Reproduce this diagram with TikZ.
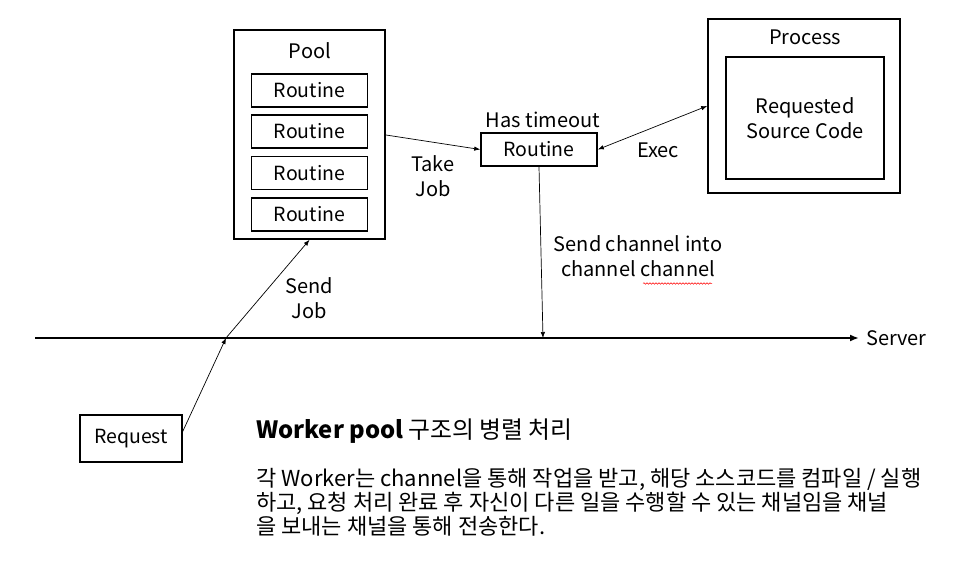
\documentclass[tikz,border=0pt]{standalone}
\usepackage{fontspec}
\setmainfont{Noto Sans CJK KR}
\usetikzlibrary{arrows.meta,decorations.pathmorphing}
\tikzset{
  box/.style={draw,line width=1.6pt,inner sep=0pt,font=\fontsize{19.5}{22}\selectfont},
  outerbox/.style={draw,line width=1.6pt,inner sep=0pt},
  lbl/.style={font=\fontsize{20}{24.5}\selectfont,align=center,inner sep=0pt},
  conn/.style={line width=0.7pt,-{Latex[length=6pt,width=4.5pt]}},
}
\begin{document}
\begin{tikzpicture}[x=1pt,y=-1pt]
\useasboundingbox (0,0) rectangle (964,580);
% Pool
\node[outerbox,minimum width=151pt,minimum height=209pt] (pool) at (309.5,134.5) {};
\node[lbl] (poollbl) at (310,51) {Pool};
\node[box,minimum width=116pt,minimum height=33pt] (r1) at (309.5,90.5) {Routine};
\node[box,minimum width=116pt,minimum height=33pt] (r2) at (309.5,131.5) {Routine};
\node[box,minimum width=116pt,minimum height=33pt] (r3) at (309.5,173) {Routine};
\node[box,minimum width=116pt,minimum height=33pt] (r4) at (309.5,214.5) {Routine};
% timeout routine
\node[box,minimum width=116pt,minimum height=33pt] (tr) at (539,149.5) {Routine};
\node[lbl] (trlbl) at (543,120) {Has timeout};
% Process
\node[outerbox,minimum width=192pt,minimum height=174pt] (proc) at (804,106) {};
\node[lbl] (proclbl) at (805,37) {Process};
\node[outerbox,minimum width=158pt,minimum height=122pt,font=\fontsize{20}{25.5}\selectfont,align=center] (src) at (805,118) {Requested\\Source Code};
% Request
\node[box,minimum width=102pt,minimum height=47pt] (req) at (131,438.5) {Request};
% Server line
\coordinate (s0) at (35,338);
\coordinate (s1) at (859,338);
\draw[line width=2.6pt,-{Latex[length=9pt,width=7pt]}] (s0) -- (s1);
\node[lbl,anchor=west] (server) at (866,338) {Server};
% connectors
\coordinate (j) at (226,338);
\coordinate (rqout) at (182,433);
\draw[conn] (rqout) -- (j);
\draw[conn] (j) -- (pool.south);
\node[lbl] (sendjob) at (309,298) {Send\\Job};
\coordinate (pout) at (386,135);
\draw[conn] (pout) -- (tr.west);
\node[lbl] (takejob) at (433,176) {Take\\Job};
\draw[line width=0.7pt,{Latex[length=6pt,width=4.5pt]}-{Latex[length=6pt,width=4.5pt]}] (tr.east) -- (proc.west);
\node[lbl] (exec) at (658,150) {Exec};
\coordinate (sj) at (543,338);
\draw[conn] (tr.south) -- (sj);
\node[lbl] (sendch) at (638,256) {Send channel into\\channel channel};
\draw[red,line width=0.5pt,decorate,decoration={snake,amplitude=0.8pt,segment length=3pt}] (643,283.5) -- (712,283.5);
% text
\node[anchor=west,inner sep=0pt,font=\fontsize{23.8}{28}\selectfont] (title) at (256,431) {\textbf{Worker pool} 구조의 병렬 처리};
\node[anchor=north west,inner sep=0pt,align=left,font=\fontsize{22}{24}\selectfont] (para) at (256,468) {각 Worker는 channel을 통해 작업을 받고, 해당 소스코드를 컴파일 / 실행\\하고, 요청 처리 완료 후 자신이 다른 일을 수행할 수 있는 채널임을 채널\\을 보내는 채널을 통해 전송한다.};
\end{tikzpicture}
\end{document}
